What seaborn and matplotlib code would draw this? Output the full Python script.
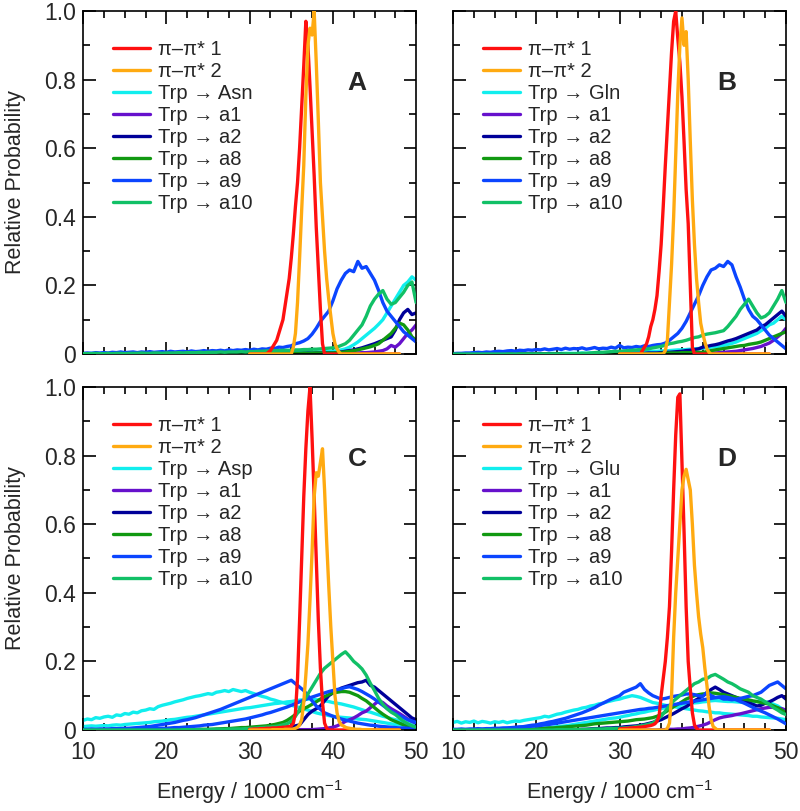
"""
plot.py - four-panel excitation energy distributions (Trp -> acceptor CT states).
"""

import numpy as np
import matplotlib
matplotlib.use("Agg")
import matplotlib.pyplot as plt
from matplotlib.ticker import MultipleLocator, FuncFormatter
import seaborn as sns

# energy grids (1000 cm^-1)
ENERGY_BROAD = np.linspace(10, 50, 81)   # 0.5 steps, CT bands
ENERGY_PEAK = np.linspace(30, 48, 73)    # 0.25 steps, pi-pi* bands

# ---------------- panel A (Asn) ----------------
A_PP1 = [0, 0, 0, 0,  0, 0, 0, 0,  0, 0.005, 0.01, 0.02,  0.03, 0.04, 0.06, 0.08,
         0.10, 0.14, 0.18, 0.22,  0.28, 0.35, 0.43, 0.50,  0.60, 0.72, 0.84, 0.97,
         0.90, 0.78, 0.65, 0.52,  0.37, 0.25, 0.13, 0.03,  0, 0, 0, 0,
         0, 0, 0, 0,  0, 0, 0, 0,  0, 0, 0, 0,  0, 0, 0, 0,  0, 0, 0, 0,
         0, 0, 0, 0,  0, 0, 0, 0,  0, 0, 0, 0,  0]
A_PP2 = [0, 0, 0, 0,  0, 0, 0, 0,  0, 0, 0, 0,  0, 0, 0, 0,  0, 0, 0, 0,
         0, 0.02, 0.06, 0.15,  0.28, 0.42, 0.55, 0.75,  0.90, 0.95, 0.93, 1.0,
         0.85, 0.68, 0.50, 0.40,  0.30, 0.22, 0.16, 0.11,  0.06, 0.03, 0.015, 0.005,
         0, 0, 0, 0,  0, 0, 0, 0,  0, 0, 0, 0,  0, 0, 0, 0,
         0, 0, 0, 0,  0, 0, 0, 0,  0, 0, 0, 0,  0]
A_TRP = [0.001, 0.001, 0.002, 0.001, 0.001, 0.002, 0.001, 0.002, 0.001, 0.002,
         0.001, 0.002, 0.002, 0.001, 0.002, 0.002, 0.001, 0.002, 0.002, 0.002,
         0.002, 0.002, 0.003, 0.002, 0.002, 0.003, 0.002, 0.003, 0.003, 0.002,
         0.003, 0.003, 0.002, 0.003, 0.003, 0.004, 0.003, 0.003, 0.004, 0.003,
         0.004, 0.004, 0.003, 0.004, 0.005, 0.004, 0.005, 0.005, 0.006, 0.005,
         0.004, 0.004, 0.005, 0.004, 0.005, 0.005, 0.006, 0.006, 0.007, 0.007,
         0.008, 0.010, 0.012, 0.015, 0.020, 0.027, 0.035, 0.045, 0.055, 0.065,
         0.075, 0.087, 0.100, 0.120, 0.140, 0.160, 0.180, 0.200, 0.210, 0.225,
         0.215]
A_A1 = [0, 0, 0, 0, 0, 0, 0, 0, 0, 0,
        0, 0, 0, 0, 0, 0, 0, 0, 0, 0,
        0, 0, 0, 0, 0, 0, 0, 0, 0, 0,
        0, 0, 0, 0, 0, 0, 0, 0, 0, 0,
        0, 0, 0, 0, 0, 0, 0, 0.001, 0, 0.001,
        0.001, 0.001, 0.001, 0.001, 0.001, 0.001, 0.001, 0.001, 0.001, 0.001,
        0.001, 0.001, 0.002, 0.002, 0.002, 0.003, 0.003, 0.004, 0.004, 0.005,
        0.006, 0.008, 0.010, 0.015, 0.025, 0.020, 0.030, 0.045, 0.060, 0.070,
        0.085]
A_A2 = [0, 0, 0, 0, 0, 0, 0, 0, 0, 0,
        0, 0, 0, 0, 0, 0, 0, 0, 0, 0,
        0, 0, 0, 0, 0, 0, 0, 0, 0, 0,
        0, 0, 0, 0, 0, 0, 0, 0, 0, 0,
        0.001, 0.001, 0.001, 0.001, 0.001, 0.001, 0.002, 0.001, 0.002, 0.002,
        0.002, 0.002, 0.002, 0.002, 0.003, 0.002, 0.003, 0.003, 0.003, 0.003,
        0.003, 0.004, 0.006, 0.008, 0.010, 0.012, 0.015, 0.018, 0.022, 0.026,
        0.030, 0.035, 0.040, 0.045, 0.050, 0.070, 0.100, 0.120, 0.130, 0.115,
        0.120]
A_A8 = [0, 0, 0, 0, 0, 0, 0, 0, 0, 0,
        0, 0, 0, 0, 0, 0, 0, 0, 0, 0,
        0, 0, 0, 0, 0, 0, 0, 0, 0, 0,
        0, 0, 0, 0, 0, 0, 0, 0, 0, 0,
        0.001, 0.001, 0.001, 0.001, 0.002, 0.001, 0.002, 0.002, 0.002, 0.002,
        0.002, 0.002, 0.002, 0.003, 0.002, 0.003, 0.003, 0.003, 0.003, 0.003,
        0.003, 0.004, 0.005, 0.006, 0.008, 0.010, 0.012, 0.015, 0.018, 0.021,
        0.025, 0.030, 0.040, 0.050, 0.060, 0.075, 0.090, 0.085, 0.070, 0.050,
        0.040]
A_A9 = [0.002, 0.003, 0.002, 0.004, 0.003, 0.004, 0.003, 0.005, 0.004, 0.006,
        0.004, 0.005, 0.006, 0.004, 0.006, 0.005, 0.007, 0.005, 0.006, 0.007,
        0.005, 0.008, 0.006, 0.007, 0.008, 0.006, 0.009, 0.007, 0.008, 0.010,
        0.008, 0.010, 0.009, 0.011, 0.009, 0.012, 0.010, 0.012, 0.011, 0.013,
        0.011, 0.014, 0.012, 0.015, 0.014, 0.017, 0.016, 0.020, 0.019, 0.022,
        0.024, 0.030, 0.033, 0.038, 0.045, 0.058, 0.075, 0.095, 0.110, 0.125,
        0.155, 0.190, 0.215, 0.235, 0.245, 0.240, 0.270, 0.250, 0.255, 0.235,
        0.215, 0.185, 0.150, 0.125, 0.110, 0.095, 0.080, 0.065, 0.055, 0.045,
        0.035]
A_A10 = [0.001, 0.001, 0.001, 0.002, 0.001, 0.001, 0.002, 0.001, 0.002, 0.002,
         0.001, 0.002, 0.002, 0.002, 0.003, 0.002, 0.002, 0.003, 0.003, 0.002,
         0.003, 0.003, 0.003, 0.004, 0.003, 0.004, 0.004, 0.004, 0.005, 0.004,
         0.005, 0.005, 0.005, 0.006, 0.005, 0.006, 0.006, 0.006, 0.007, 0.006,
         0.007, 0.007, 0.008, 0.008, 0.009, 0.009, 0.010, 0.010, 0.011, 0.011,
         0.011, 0.012, 0.012, 0.013, 0.013, 0.014, 0.014, 0.015, 0.016, 0.017,
         0.018, 0.020, 0.025, 0.030, 0.040, 0.055, 0.070, 0.085, 0.110, 0.140,
         0.160, 0.175, 0.185, 0.160, 0.145, 0.150, 0.165, 0.180, 0.200, 0.210,
         0.150]

# ---------------- panel B (Gln) ----------------
B_PP1 = [0, 0, 0, 0,  0, 0, 0, 0,  0, 0, 0, 0.01,  0.02, 0.03, 0.05, 0.08,
         0.10, 0.13, 0.17, 0.24,  0.32, 0.43, 0.55, 0.66,  0.77, 0.88, 0.97, 1.0,
         0.92, 0.85, 0.75, 0.62,  0.48, 0.38, 0.20, 0.02,  0, 0, 0, 0,
         0, 0, 0, 0,  0, 0, 0, 0,  0, 0, 0, 0,  0, 0, 0, 0,  0, 0, 0, 0,
         0, 0, 0, 0,  0, 0, 0, 0,  0, 0, 0, 0,  0]
B_PP2 = [0, 0, 0, 0,  0, 0, 0, 0,  0, 0, 0, 0,  0, 0, 0, 0,  0, 0, 0, 0,
         0, 0, 0.01, 0.04,  0.15, 0.26, 0.40, 0.58,  0.76, 0.90, 0.98, 0.90,
         0.94, 0.80, 0.62, 0.45,  0.32, 0.22, 0.15, 0.09,  0.06, 0.035, 0.015, 0.005,
         0, 0, 0, 0,  0, 0, 0, 0,  0, 0, 0, 0,  0, 0, 0, 0,
         0, 0, 0, 0,  0, 0, 0, 0,  0, 0, 0, 0,  0]
B_TRP = [0, 0, 0, 0, 0, 0, 0, 0, 0, 0,
         0, 0, 0, 0, 0, 0, 0, 0, 0, 0,
         0.001, 0.001, 0.001, 0.001, 0.002, 0.001, 0.002, 0.002, 0.002, 0.002,
         0.002, 0.003, 0.002, 0.003, 0.003, 0.003, 0.003, 0.004, 0.003, 0.004,
         0.004, 0.004, 0.005, 0.005, 0.006, 0.006, 0.007, 0.007, 0.008, 0.008,
         0.009, 0.009, 0.010, 0.011, 0.012, 0.012, 0.013, 0.014, 0.015, 0.016,
         0.017, 0.018, 0.020, 0.021, 0.023, 0.025, 0.028, 0.031, 0.035, 0.040,
         0.045, 0.050, 0.055, 0.060, 0.068, 0.075, 0.085, 0.090, 0.100, 0.110,
         0.100]
B_A1 = [0, 0, 0, 0, 0, 0, 0, 0, 0, 0,
        0, 0, 0, 0, 0, 0, 0, 0, 0, 0,
        0, 0, 0, 0, 0, 0, 0, 0, 0, 0,
        0, 0, 0, 0, 0, 0, 0, 0, 0, 0,
        0, 0, 0, 0, 0, 0, 0, 0, 0, 0,
        0, 0, 0.001, 0.001, 0.001, 0.001, 0.001, 0.001, 0.002, 0.002,
        0.002, 0.002, 0.003, 0.003, 0.004, 0.005, 0.006, 0.007, 0.008, 0.010,
        0.012, 0.014, 0.016, 0.019, 0.022, 0.027, 0.032, 0.040, 0.050, 0.060,
        0.075]
B_A2 = [0, 0, 0, 0, 0, 0, 0, 0, 0, 0,
        0, 0, 0, 0, 0, 0, 0, 0, 0, 0,
        0, 0, 0, 0, 0, 0, 0, 0, 0, 0,
        0, 0, 0, 0, 0, 0, 0, 0, 0, 0,
        0.001, 0.001, 0.001, 0.002, 0.002, 0.002, 0.002, 0.003, 0.003, 0.003,
        0.004, 0.005, 0.005, 0.006, 0.007, 0.008, 0.010, 0.011, 0.013, 0.015,
        0.020, 0.022, 0.025, 0.027, 0.030, 0.034, 0.038, 0.041, 0.045, 0.050,
        0.055, 0.060, 0.065, 0.070, 0.080, 0.085, 0.095, 0.105, 0.115, 0.125,
        0.110]
B_A8 = [0, 0, 0, 0, 0, 0, 0, 0, 0, 0,
        0, 0, 0, 0, 0, 0, 0, 0, 0, 0,
        0, 0, 0, 0, 0, 0, 0, 0, 0, 0,
        0, 0, 0, 0, 0, 0, 0, 0, 0, 0,
        0, 0, 0, 0, 0, 0, 0, 0, 0, 0,
        0.002, 0.002, 0.003, 0.003, 0.003, 0.004, 0.004, 0.004, 0.005, 0.005,
        0.005, 0.007, 0.010, 0.012, 0.014, 0.016, 0.018, 0.020, 0.022, 0.024,
        0.025, 0.028, 0.030, 0.032, 0.035, 0.040, 0.045, 0.050, 0.055, 0.060,
        0.065]
B_A9 = [0.001, 0.002, 0.002, 0.003, 0.003, 0.004, 0.005, 0.004, 0.006, 0.005,
        0.007, 0.008, 0.007, 0.009, 0.010, 0.008, 0.011, 0.010, 0.012, 0.011,
        0.013, 0.012, 0.015, 0.012, 0.014, 0.016, 0.013, 0.017, 0.014, 0.016,
        0.015, 0.018, 0.014, 0.016, 0.019, 0.015, 0.017, 0.016, 0.020, 0.017,
        0.025, 0.018, 0.020, 0.019, 0.022, 0.020, 0.024, 0.022, 0.025, 0.027,
        0.028, 0.032, 0.040, 0.050, 0.060, 0.075, 0.095, 0.120, 0.145, 0.170,
        0.200, 0.225, 0.245, 0.250, 0.260, 0.255, 0.270, 0.260, 0.225, 0.195,
        0.160, 0.130, 0.110, 0.100, 0.085, 0.070, 0.055, 0.045, 0.035, 0.025,
        0.015]
B_A10 = [0, 0, 0, 0, 0, 0, 0, 0, 0, 0,
         0, 0, 0, 0, 0, 0, 0, 0, 0, 0,
         0, 0, 0, 0, 0, 0, 0, 0.001, 0.001, 0.001,
         0.001, 0.002, 0.002, 0.003, 0.004, 0.005, 0.005, 0.006, 0.007, 0.008,
         0.008, 0.009, 0.010, 0.011, 0.012, 0.013, 0.014, 0.015, 0.018, 0.020,
         0.022, 0.026, 0.030, 0.032, 0.035, 0.037, 0.040, 0.044, 0.048, 0.050,
         0.055, 0.058, 0.060, 0.062, 0.065, 0.068, 0.080, 0.095, 0.110, 0.130,
         0.145, 0.160, 0.140, 0.120, 0.105, 0.110, 0.120, 0.140, 0.160, 0.185,
         0.150]

# ---------------- panel C (Asp) ----------------
C_PP1 = [0.002, 0.002, 0.003, 0.003,  0.003, 0.004, 0.004, 0.004,
         0.005, 0.005, 0.005, 0.006,  0.006, 0.006, 0.007, 0.007,
         0.008, 0.008, 0.009, 0.010,  0.012, 0.02, 0.05, 0.15,
         0.32, 0.50, 0.68, 0.82,  0.93, 1.0, 0.85, 0.68,
         0.50, 0.32, 0.18, 0.08,  0.02, 0.005, 0, 0,
         0, 0, 0, 0,  0, 0, 0, 0,  0, 0, 0, 0,  0, 0, 0, 0,  0, 0, 0, 0,
         0, 0, 0, 0,  0, 0, 0, 0,  0, 0, 0, 0,  0]
C_PP2 = [0, 0, 0, 0,  0, 0, 0, 0,  0, 0, 0, 0.001,  0.001, 0.001, 0.001, 0.001,
         0.001, 0.002, 0.002, 0.002,  0.002, 0.003, 0.005, 0.008,
         0.015, 0.03, 0.08, 0.16,  0.25, 0.38, 0.52, 0.68,
         0.75, 0.74, 0.78, 0.82,  0.70, 0.55, 0.42, 0.30,
         0.20, 0.10, 0.05, 0.025,  0.015, 0.012, 0.008, 0.006,
         0.005, 0.004, 0.003, 0.002,  0.002, 0.002, 0.001, 0.001,
         0.001, 0.001, 0.001, 0,  0, 0, 0, 0,  0, 0, 0, 0,  0, 0, 0, 0,  0]
C_TRP = [0.028, 0.032, 0.030, 0.036, 0.034, 0.038, 0.040, 0.037, 0.044, 0.042,
         0.048, 0.046, 0.052, 0.050, 0.056, 0.058, 0.062, 0.060, 0.068, 0.072,
         0.075, 0.078, 0.082, 0.085, 0.088, 0.092, 0.095, 0.098, 0.100, 0.103,
         0.106, 0.104, 0.110, 0.112, 0.115, 0.112, 0.118, 0.115, 0.112, 0.115,
         0.110, 0.106, 0.102, 0.098, 0.095, 0.090, 0.087, 0.083, 0.080, 0.076,
         0.072, 0.069, 0.065, 0.061, 0.058, 0.054, 0.050, 0.047, 0.045, 0.042,
         0.040, 0.038, 0.037, 0.036, 0.035, 0.034, 0.032, 0.031, 0.030, 0.028,
         0.026, 0.024, 0.022, 0.020, 0.018, 0.016, 0.015, 0.014, 0.013, 0.012,
         0.011]
C_TRP_2 = [0.010, 0.011, 0.012, 0.011, 0.012, 0.013, 0.012, 0.014, 0.015, 0.014,
           0.016, 0.017, 0.018, 0.019, 0.020, 0.021, 0.022, 0.024, 0.025, 0.026,
           0.028, 0.030, 0.031, 0.033, 0.035, 0.037, 0.038, 0.040, 0.042, 0.044,
           0.046, 0.048, 0.050, 0.052, 0.054, 0.056, 0.058, 0.060, 0.062, 0.064,
           0.065, 0.067, 0.069, 0.071, 0.073, 0.075, 0.077, 0.078, 0.080, 0.082,
           0.083, 0.085, 0.087, 0.088, 0.090, 0.090, 0.088, 0.088, 0.085, 0.083,
           0.080, 0.078, 0.076, 0.073, 0.070, 0.067, 0.063, 0.059, 0.055, 0.052,
           0.048, 0.044, 0.040, 0.037, 0.033, 0.030, 0.027, 0.025, 0.022, 0.020,
           0.018]
C_A1 = [0, 0, 0, 0, 0, 0, 0, 0, 0, 0,
        0, 0, 0, 0, 0, 0, 0, 0, 0, 0,
        0, 0, 0, 0, 0, 0, 0, 0, 0, 0,
        0, 0, 0, 0, 0, 0, 0, 0, 0, 0,
        0, 0, 0, 0, 0, 0, 0, 0, 0, 0,
        0, 0, 0.001, 0.001, 0.001, 0.001, 0.002, 0.003, 0.004, 0.006,
        0.008, 0.012, 0.018, 0.025, 0.030, 0.035, 0.042, 0.050, 0.055, 0.065,
        0.075, 0.085, 0.080, 0.070, 0.062, 0.055, 0.048, 0.040, 0.032, 0.025,
        0.020]
C_A2 = [0, 0, 0, 0, 0, 0, 0, 0, 0, 0,
        0, 0, 0, 0, 0, 0, 0, 0, 0, 0,
        0, 0, 0, 0, 0.001, 0.001, 0.001, 0.001, 0.001, 0.001,
        0.001, 0.001, 0.001, 0.002, 0.002, 0.002, 0.002, 0.002, 0.002, 0.002,
        0.002, 0.003, 0.003, 0.004, 0.004, 0.005, 0.006, 0.007, 0.007, 0.009,
        0.010, 0.012, 0.015, 0.030, 0.045, 0.055, 0.062, 0.070, 0.085, 0.100,
        0.108, 0.115, 0.122, 0.126, 0.130, 0.134, 0.138, 0.140, 0.145, 0.130,
        0.125, 0.115, 0.105, 0.095, 0.085, 0.075, 0.065, 0.055, 0.045, 0.035,
        0.030]
C_A8 = [0, 0, 0, 0, 0, 0, 0, 0, 0, 0,
        0, 0, 0, 0, 0, 0, 0, 0, 0, 0,
        0, 0.001, 0.001, 0.001, 0.001, 0.001, 0.002, 0.001, 0.002, 0.002,
        0.002, 0.002, 0.003, 0.003, 0.004, 0.004, 0.005, 0.006, 0.007, 0.007,
        0.008, 0.009, 0.010, 0.011, 0.012, 0.014, 0.016, 0.019, 0.022, 0.028,
        0.036, 0.045, 0.055, 0.062, 0.068, 0.075, 0.082, 0.090, 0.097, 0.103,
        0.108, 0.110, 0.112, 0.112, 0.110, 0.105, 0.100, 0.092, 0.085, 0.075,
        0.065, 0.055, 0.046, 0.038, 0.030, 0.025, 0.020, 0.015, 0.012, 0.009,
        0.007]
C_A9 = [0.002, 0.002, 0.003, 0.002, 0.003, 0.003, 0.003, 0.004, 0.004, 0.004,
        0.005, 0.005, 0.006, 0.007, 0.008, 0.009, 0.010, 0.012, 0.014, 0.016,
        0.018, 0.020, 0.022, 0.025, 0.028, 0.030, 0.033, 0.036, 0.040, 0.044,
        0.048, 0.052, 0.056, 0.060, 0.065, 0.070, 0.075, 0.080, 0.085, 0.090,
        0.095, 0.100, 0.105, 0.110, 0.115, 0.120, 0.125, 0.130, 0.135, 0.140,
        0.145, 0.135, 0.125, 0.115, 0.100, 0.085, 0.070, 0.060, 0.050, 0.045,
        0.040, 0.036, 0.032, 0.029, 0.026, 0.023, 0.020, 0.018, 0.016, 0.014,
        0.013, 0.011, 0.010, 0.009, 0.008, 0.007, 0.006, 0.006, 0.005, 0.005,
        0.004]
C_A9_2 = [0, 0, 0, 0, 0, 0, 0, 0.001, 0.001, 0.001,
          0.001, 0.002, 0.002, 0.002, 0.003, 0.003, 0.003, 0.004, 0.004, 0.005,
          0.005, 0.006, 0.007, 0.007, 0.008, 0.009, 0.010, 0.011, 0.012, 0.014,
          0.015, 0.016, 0.018, 0.020, 0.022, 0.024, 0.026, 0.028, 0.030, 0.032,
          0.035, 0.038, 0.041, 0.044, 0.048, 0.051, 0.055, 0.059, 0.063, 0.067,
          0.072, 0.077, 0.082, 0.087, 0.092, 0.096, 0.100, 0.104, 0.108, 0.112,
          0.115, 0.118, 0.120, 0.124, 0.126, 0.122, 0.118, 0.112, 0.105, 0.098,
          0.090, 0.081, 0.072, 0.063, 0.055, 0.048, 0.042, 0.036, 0.030, 0.026,
          0.022]
C_A10 = [0, 0, 0, 0, 0, 0, 0, 0, 0, 0,
         0, 0, 0, 0, 0, 0, 0, 0, 0, 0,
         0, 0, 0, 0, 0.001, 0.001, 0.001, 0.001, 0.001, 0.001,
         0.001, 0.002, 0.002, 0.002, 0.002, 0.003, 0.003, 0.003, 0.003, 0.004,
         0.004, 0.005, 0.006, 0.007, 0.008, 0.009, 0.010, 0.012, 0.015, 0.018,
         0.025, 0.040, 0.060, 0.085, 0.105, 0.125, 0.145, 0.165, 0.180, 0.190,
         0.200, 0.210, 0.220, 0.228, 0.215, 0.200, 0.190, 0.178, 0.160, 0.136,
         0.115, 0.092, 0.075, 0.062, 0.052, 0.045, 0.035, 0.025, 0.018, 0.012,
         0.008]

# ---------------- panel D (Glu) ----------------
D_PP1 = [0.003, 0.004, 0.004, 0.005,  0.005, 0.006, 0.006, 0.007,
         0.007, 0.008, 0.008, 0.009,  0.010, 0.011, 0.012, 0.013,
         0.015, 0.018, 0.025, 0.04,  0.10, 0.15, 0.20, 0.27,
         0.36, 0.52, 0.70, 0.86,  0.97, 0.98, 0.78, 0.58,
         0.36, 0.20, 0.12, 0.05,  0.015, 0.005, 0, 0,
         0, 0, 0, 0,  0, 0, 0, 0,  0, 0, 0, 0,  0, 0, 0, 0,  0, 0, 0, 0,
         0, 0, 0, 0,  0, 0, 0, 0,  0, 0, 0, 0,  0]
D_PP2 = [0, 0, 0, 0,  0, 0, 0, 0,  0, 0, 0, 0,  0, 0, 0, 0,  0, 0, 0, 0,
         0, 0, 0, 0.005,  0.02, 0.10, 0.27, 0.40,  0.50, 0.60, 0.70, 0.74,
         0.76, 0.73, 0.70, 0.60,  0.48, 0.40, 0.33, 0.28,  0.24, 0.18, 0.13, 0.07,
         0.03, 0.01, 0.005, 0,  0, 0, 0, 0,  0, 0, 0, 0,  0, 0, 0, 0,
         0, 0, 0, 0,  0, 0, 0, 0,  0, 0, 0, 0,  0]
D_TRP = [0.022, 0.025, 0.020, 0.024, 0.022, 0.026, 0.021, 0.025, 0.023, 0.020,
         0.024, 0.022, 0.025, 0.021, 0.024, 0.026, 0.025, 0.028, 0.030, 0.032,
         0.034, 0.036, 0.040, 0.038, 0.042, 0.046, 0.048, 0.052, 0.055, 0.058,
         0.060, 0.064, 0.066, 0.070, 0.072, 0.076, 0.078, 0.082, 0.085, 0.088,
         0.090, 0.094, 0.097, 0.100, 0.098, 0.095, 0.090, 0.085, 0.080, 0.078,
         0.075, 0.072, 0.070, 0.068, 0.066, 0.064, 0.062, 0.060, 0.058, 0.056,
         0.055, 0.053, 0.052, 0.050, 0.050, 0.048, 0.047, 0.046, 0.045, 0.044,
         0.043, 0.042, 0.040, 0.040, 0.038, 0.037, 0.036, 0.035, 0.034, 0.032,
         0.030]
D_TRP_2 = [0, 0, 0, 0, 0, 0, 0, 0, 0.001, 0.001,
           0.001, 0.001, 0.001, 0.001, 0.002, 0.002, 0.002, 0.002, 0.002, 0.002,
           0.003, 0.005, 0.006, 0.007, 0.008, 0.010, 0.011, 0.012, 0.014, 0.016,
           0.018, 0.020, 0.022, 0.024, 0.026, 0.028, 0.030, 0.032, 0.034, 0.035,
           0.037, 0.040, 0.042, 0.045, 0.047, 0.050, 0.052, 0.055, 0.057, 0.060,
           0.062, 0.065, 0.067, 0.070, 0.072, 0.075, 0.076, 0.078, 0.079, 0.080,
           0.082, 0.083, 0.085, 0.086, 0.085, 0.084, 0.083, 0.083, 0.082, 0.081,
           0.080, 0.081, 0.082, 0.083, 0.083, 0.082, 0.080, 0.075, 0.070, 0.062,
           0.055]
D_A1 = [0, 0, 0, 0, 0, 0, 0, 0, 0, 0,
        0, 0, 0, 0, 0, 0, 0, 0, 0, 0,
        0, 0, 0, 0, 0, 0, 0, 0, 0, 0,
        0, 0, 0, 0, 0, 0, 0, 0, 0, 0,
        0, 0, 0, 0, 0, 0, 0, 0, 0, 0,
        0.001, 0.001, 0.002, 0.002, 0.003, 0.003, 0.005, 0.006, 0.008, 0.011,
        0.014, 0.018, 0.024, 0.030, 0.035, 0.038, 0.040, 0.042, 0.045, 0.047,
        0.050, 0.053, 0.056, 0.059, 0.062, 0.064, 0.066, 0.066, 0.064, 0.062,
        0.058]
D_A2 = [0, 0, 0, 0, 0, 0, 0, 0, 0, 0,
        0, 0, 0, 0, 0, 0, 0, 0, 0, 0,
        0, 0, 0, 0, 0, 0.001, 0.001, 0.001, 0.001, 0.001,
        0.001, 0.002, 0.002, 0.003, 0.004, 0.004, 0.005, 0.006, 0.006, 0.007,
        0.007, 0.009, 0.010, 0.011, 0.012, 0.014, 0.016, 0.019, 0.022, 0.026,
        0.030, 0.036, 0.042, 0.048, 0.055, 0.062, 0.068, 0.076, 0.085, 0.092,
        0.100, 0.108, 0.118, 0.125, 0.118, 0.110, 0.105, 0.100, 0.095, 0.090,
        0.085, 0.080, 0.075, 0.070, 0.072, 0.078, 0.082, 0.088, 0.095, 0.100,
        0.090]
D_A8 = [0, 0, 0, 0, 0, 0, 0, 0, 0, 0,
        0, 0, 0, 0, 0.001, 0.001, 0.001, 0.001, 0.002, 0.002,
        0.003, 0.004, 0.005, 0.006, 0.006, 0.007, 0.008, 0.009, 0.010, 0.011,
        0.012, 0.013, 0.014, 0.016, 0.018, 0.019, 0.020, 0.021, 0.022, 0.023,
        0.024, 0.025, 0.026, 0.028, 0.030, 0.031, 0.032, 0.034, 0.036, 0.040,
        0.045, 0.052, 0.060, 0.068, 0.075, 0.082, 0.090, 0.095, 0.100, 0.103,
        0.105, 0.106, 0.108, 0.107, 0.105, 0.103, 0.100, 0.098, 0.095, 0.092,
        0.090, 0.088, 0.085, 0.083, 0.080, 0.078, 0.075, 0.070, 0.065, 0.058,
        0.050]
D_A9 = [0, 0, 0, 0.001, 0.001, 0.001, 0.001, 0.002, 0.002, 0.002,
        0.003, 0.003, 0.004, 0.005, 0.006, 0.007, 0.008, 0.010, 0.012, 0.014,
        0.015, 0.018, 0.020, 0.023, 0.025, 0.028, 0.031, 0.034, 0.038, 0.042,
        0.046, 0.050, 0.055, 0.060, 0.065, 0.072, 0.078, 0.084, 0.090, 0.095,
        0.100, 0.110, 0.115, 0.120, 0.125, 0.135, 0.118, 0.108, 0.100, 0.095,
        0.090, 0.092, 0.095, 0.098, 0.100, 0.102, 0.105, 0.105, 0.103, 0.100,
        0.098, 0.110, 0.100, 0.095, 0.095, 0.090, 0.090, 0.088, 0.090, 0.092,
        0.095, 0.098, 0.100, 0.105, 0.110, 0.120, 0.130, 0.135, 0.140, 0.130,
        0.120]
D_A9_2 = [0.002, 0.002, 0.003, 0.002, 0.003, 0.003, 0.004, 0.003, 0.004, 0.004,
          0.005, 0.005, 0.006, 0.006, 0.007, 0.008, 0.009, 0.009, 0.010, 0.011,
          0.012, 0.013, 0.015, 0.016, 0.018, 0.020, 0.022, 0.024, 0.026, 0.028,
          0.030, 0.032, 0.034, 0.036, 0.038, 0.040, 0.042, 0.044, 0.046, 0.048,
          0.050, 0.052, 0.054, 0.056, 0.058, 0.060, 0.061, 0.063, 0.064, 0.066,
          0.068, 0.070, 0.072, 0.074, 0.076, 0.078, 0.080, 0.082, 0.084, 0.086,
          0.088, 0.090, 0.092, 0.094, 0.096, 0.097, 0.095, 0.092, 0.088, 0.083,
          0.078, 0.072, 0.066, 0.060, 0.055, 0.050, 0.044, 0.038, 0.032, 0.025,
          0.018]
D_A10 = [0, 0, 0, 0, 0, 0, 0, 0, 0, 0,
         0, 0, 0, 0, 0, 0, 0, 0, 0, 0,
         0, 0, 0, 0, 0, 0.001, 0.001, 0.001, 0.001, 0.001,
         0.001, 0.001, 0.002, 0.002, 0.003, 0.003, 0.003, 0.004, 0.004, 0.005,
         0.005, 0.006, 0.007, 0.008, 0.010, 0.012, 0.014, 0.017, 0.020, 0.030,
         0.040, 0.055, 0.070, 0.085, 0.095, 0.105, 0.115, 0.125, 0.135, 0.140,
         0.148, 0.150, 0.158, 0.162, 0.155, 0.148, 0.140, 0.135, 0.128, 0.120,
         0.115, 0.110, 0.100, 0.095, 0.090, 0.082, 0.075, 0.065, 0.058, 0.050,
         0.045]

PANEL_LETTERS = ["A", "B", "C", "D"]
ACCEPTORS = ["Asn", "Gln", "Asp", "Glu"]
ACCEPTOR_LABELS = ["a1", "a2", "a8", "a9", "a10"]

COL_PP1 = "#ff1010"
COL_PP2 = "#ffaa11"
COL_TRP = "#11eeee"
COL_A1 = "#6611cc"
COL_A2 = "#000099"
COL_A8 = "#119911"
COL_A9 = "#0b45ff"
COL_A10 = "#11c066"
LW = 2.4


def draw_panel(ax, letter, acceptor, pp1, pp2, trp, a1, a2, a8, a9, a10,
               trp_extra=None, a9_extra=None):
    arrow = " \u2192 "
    broad = [(trp, "Trp" + arrow + acceptor, COL_TRP),
             (trp_extra, None, COL_TRP),
             (a1, "Trp" + arrow + "a1", COL_A1),
             (a2, "Trp" + arrow + "a2", COL_A2),
             (a8, "Trp" + arrow + "a8", COL_A8),
             (a9, "Trp" + arrow + "a9", COL_A9),
             (a9_extra, None, COL_A9),
             (a10, "Trp" + arrow + "a10", COL_A10)]
    for z, (vals, lab, col) in enumerate(broad):
        if vals is None:
            continue
        assert len(vals) == len(ENERGY_BROAD), (letter, lab)
        sns.lineplot(x=ENERGY_BROAD, y=vals, ax=ax, color=col, lw=LW,
                     label=lab if lab else "_nolegend_", zorder=2 + z * 0.1)
    for vals, lab, col in [(pp1, "\u03c0\u2013\u03c0* 1", COL_PP1),
                           (pp2, "\u03c0\u2013\u03c0* 2", COL_PP2)]:
        assert len(vals) == len(ENERGY_PEAK), (letter, lab, len(vals))
        sns.lineplot(x=ENERGY_PEAK, y=vals, ax=ax, color=col, lw=LW,
                     label=lab, zorder=4)

    handles, labels = ax.get_legend_handles_labels()
    lookup = dict(zip(labels, handles))
    order = ["\u03c0\u2013\u03c0* 1", "\u03c0\u2013\u03c0* 2", "Trp" + arrow + acceptor] + \
            ["Trp" + arrow + a for a in ACCEPTOR_LABELS]
    ax.legend([lookup[k] for k in order], order, loc="upper left",
              bbox_to_anchor=(0.09, 0.915), frameon=False, fontsize=14.5,
              handlelength=1.85, handletextpad=0.4, labelspacing=0.15,
              borderaxespad=0, borderpad=0)
    ax.text(0.823, 0.79, letter, transform=ax.transAxes, fontsize=19,
            fontweight="bold", ha="center", va="center")


sns.set_theme(style="ticks")
plt.rcParams["font.family"] = ["Liberation Sans", "DejaVu Sans"]
plt.rcParams["mathtext.fontset"] = "custom"
plt.rcParams["mathtext.rm"] = "Liberation Sans"
plt.rcParams["mathtext.default"] = "regular"

fig, axes = plt.subplots(2, 2, figsize=(8, 8.11), dpi=100, sharex=True, sharey=True)
plt.subplots_adjust(left=0.104, right=0.9825, bottom=0.0999, top=0.9864,
                    wspace=0.111, hspace=0.0962)

panels = [
    (A_PP1, A_PP2, A_TRP, A_A1, A_A2, A_A8, A_A9, A_A10, None, None),
    (B_PP1, B_PP2, B_TRP, B_A1, B_A2, B_A8, B_A9, B_A10, None, None),
    (C_PP1, C_PP2, C_TRP, C_A1, C_A2, C_A8, C_A9, C_A10, C_TRP_2, C_A9_2),
    (D_PP1, D_PP2, D_TRP, D_A1, D_A2, D_A8, D_A9, D_A10, D_TRP_2, D_A9_2),
]

for ax, letter, acc, data in zip(axes.flat, PANEL_LETTERS, ACCEPTORS, panels):
    pp1, pp2, trp, a1, a2, a8, a9, a10, trp_x, a9_x = data
    draw_panel(ax, letter, acc, pp1, pp2, trp, a1, a2, a8, a9, a10, trp_x, a9_x)
    ax.set_xlim(10, 50)
    ax.set_ylim(0, 1.0)
    ax.xaxis.set_major_locator(MultipleLocator(10))
    ax.xaxis.set_minor_locator(MultipleLocator(2.5))
    ax.yaxis.set_major_locator(MultipleLocator(0.2))
    ax.yaxis.set_minor_locator(MultipleLocator(0.1))
    ax.yaxis.set_major_formatter(FuncFormatter(lambda v, p: "0" if abs(v) < 1e-9 else f"{v:.1f}"))
    ax.tick_params(which="both", direction="in", top=True, right=True,
                   width=1.2, color="black", labelsize=16.5)
    ax.tick_params(axis="y", which="both", pad=5)
    ax.tick_params(axis="x", which="both", pad=8)
    ax.tick_params(which="major", length=9)
    ax.tick_params(which="minor", length=5)
    for sp in ax.spines.values():
        sp.set_linewidth(1.2)
        sp.set_color("black")

for ax in axes[:, 0]:
    ax.set_ylabel("Relative Probability", fontsize=15.5, labelpad=13)
for ax in axes[1, :]:
    ax.set_xlabel("Energy / 1000 cm$^{-1}$", fontsize=15.5, labelpad=10)

fig.savefig("out.png", dpi=100)
